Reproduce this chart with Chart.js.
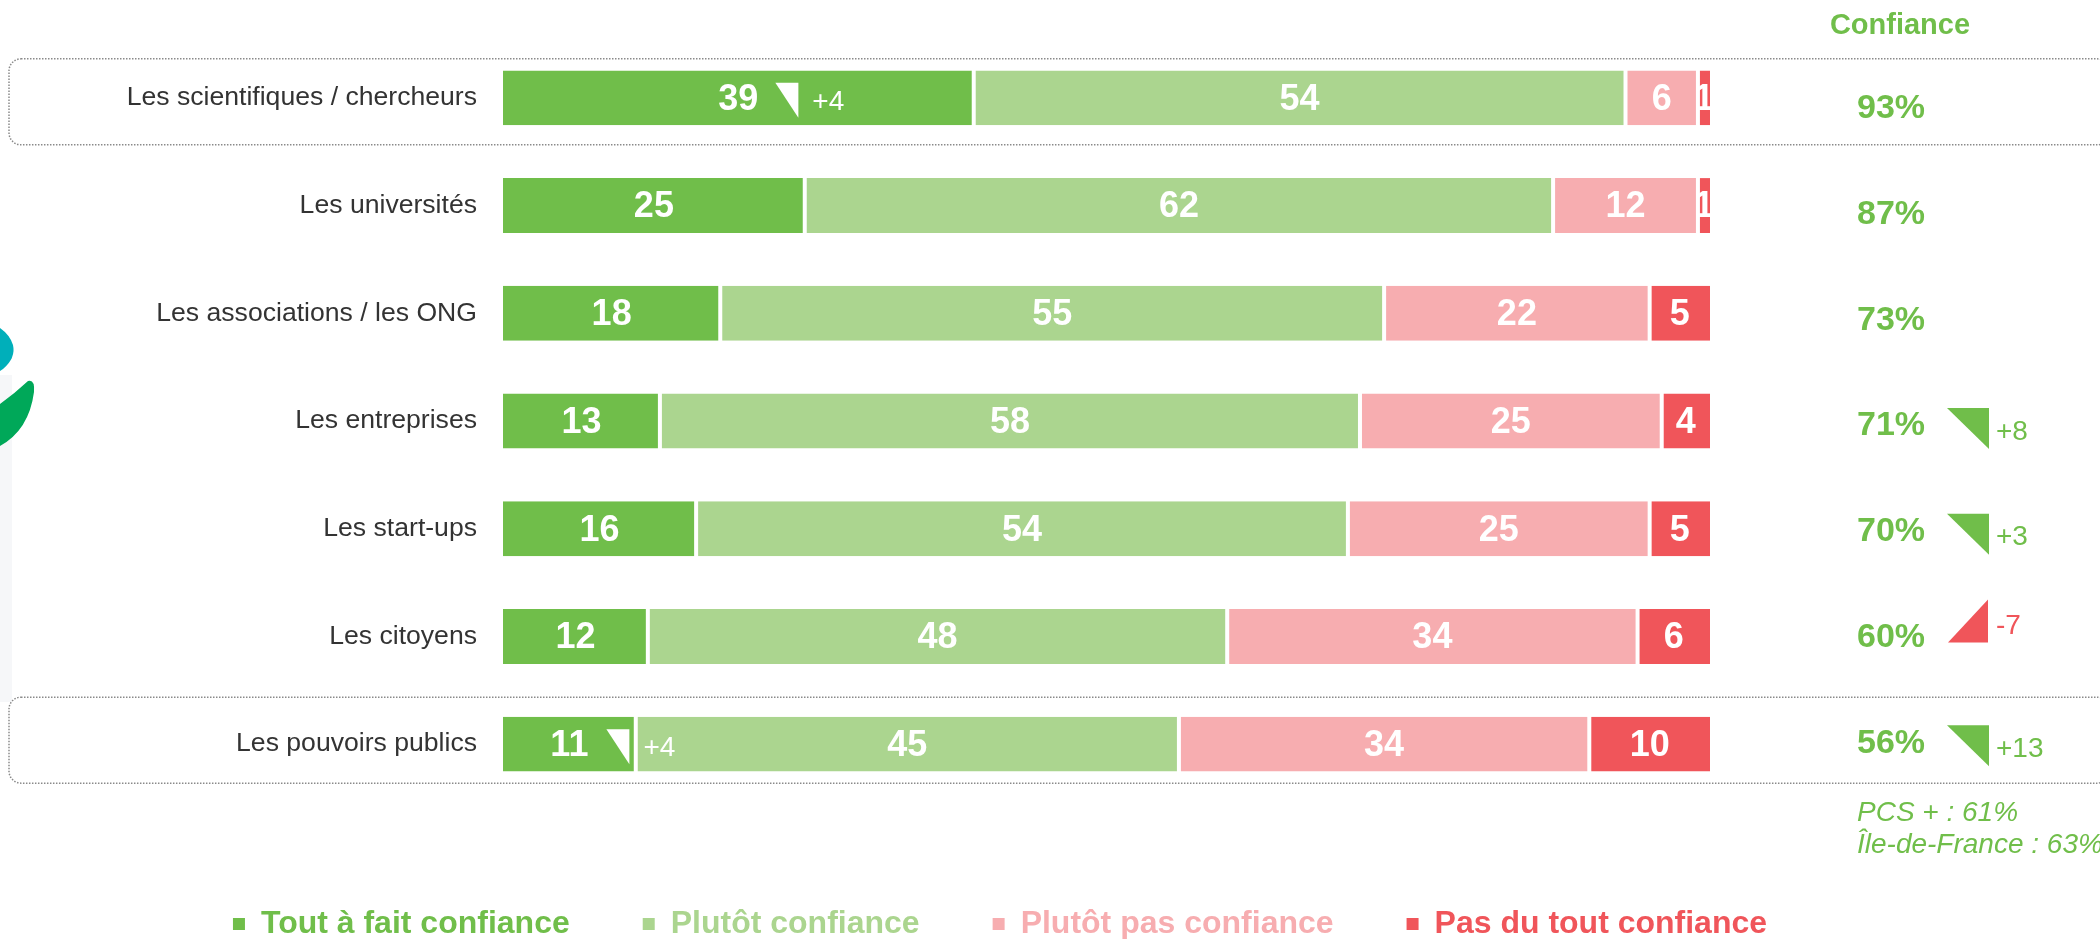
<!DOCTYPE html>
<html>
<head>
<meta charset="utf-8">
<script src="https://cdn.jsdelivr.net/npm/chart.js@4.4.1/dist/chart.umd.min.js"></script>
<style>
  html, body { margin: 0; padding: 0; background: #fff; }
  #wrap { width: 2100px; height: 939px; position: relative; }
</style>
</head>
<body>
<div id="wrap"><canvas id="myChart"></canvas></div>
<script>
// valeurs
const categories = ['Les scientifiques / chercheurs', 'Les universités', 'Les associations / les ONG',
    'Les entreprises', 'Les start-ups', 'Les citoyens', 'Les pouvoirs publics'];
const toutAFait = [39, 25, 18, 13, 16, 12, 11];
const plutot = [54, 62, 55, 58, 54, 48, 45];
const plutotPas = [6, 12, 22, 25, 25, 34, 34];
const pasDuTout = [1, 1, 5, 4, 5, 6, 10];
const confiance = [93, 87, 73, 71, 70, 60, 56];
const evolConfiance = [null, null, null, 8, 3, -7, 13];
const evolToutAFait = [4, null, null, null, null, null, 4];
const highlightRows = [0, 6];
const notes = ['PCS + : 61%', 'Île-de-France : 63%'];

const seriesLabels = ['Tout à fait confiance', 'Plutôt confiance', 'Plutôt pas confiance', 'Pas du tout confiance'];
const seriesColors = ['#70BE4A', '#ABD58F', '#F7ADB0', '#F0555A'];
const seriesData = [toutAFait, plutot, plutotPas, pasDuTout];

const GREEN = '#70BE4A';
const RED = '#F0555A';
const FONT = '"Liberation Sans", Arial, sans-serif';

const rowY = (chart, i) => chart.scales.y.getPixelForValue(i);

// logo, bandeau gris, cadres pointillés
const decor = {
    id: 'decor',
    beforeDraw(chart) {
        const ctx = chart.ctx;
        ctx.save();
        ctx.fillStyle = '#f6f7f9';
        ctx.fillRect(0, 375, 12, 327);
        ctx.fillStyle = '#00AFBA';
        ctx.beginPath();
        ctx.moveTo(0, 328);
        ctx.quadraticCurveTo(10, 335, 13, 345);
        ctx.quadraticCurveTo(16, 358, 3, 369);
        ctx.lineTo(0, 371);
        ctx.closePath();
        ctx.fill();
        ctx.fillStyle = '#00A859';
        ctx.beginPath();
        ctx.moveTo(0, 446);
        ctx.quadraticCurveTo(29, 430, 34, 392);
        ctx.quadraticCurveTo(35, 379, 28, 381);
        ctx.quadraticCurveTo(14, 394, 0, 404);
        ctx.closePath();
        ctx.fill();

        ctx.strokeStyle = '#8a8a8a';
        ctx.lineWidth = 1.5;
        ctx.setLineDash([1.5, 1.5]);
        highlightRows.forEach(i => {
            const c = rowY(chart, i) + 4 - i * 4 / 3;
            ctx.beginPath();
            ctx.roundRect(9, c - 43, 2100, 86, 12);
            ctx.stroke();
        });
        ctx.restore();
    }
};

const labels = {
    id: 'labels',
    afterDatasetsDraw(chart) {
        const ctx = chart.ctx;
        ctx.save();
        ctx.textBaseline = 'middle';
        // valeurs dans les barres
        ctx.fillStyle = '#fff';
        ctx.textAlign = 'center';
        ctx.font = 'bold 36px ' + FONT;
        seriesData.forEach((arr, di) => {
            chart.getDatasetMeta(di).data.forEach((bar, i) => {
                ctx.fillText(arr[i], (bar.x + bar.base) / 2, bar.y + 2);
            });
        });
        // évolutions "tout à fait"
        const meta0 = chart.getDatasetMeta(0);
        evolToutAFait.forEach((v, i) => {
            if (v === null) return;
            const bar = meta0.data[i];
            const cx = (bar.x + bar.base) / 2;
            const y = bar.y;
            ctx.beginPath();
            ctx.moveTo(cx + 37, y - 15);
            ctx.lineTo(cx + 60, y - 15);
            ctx.lineTo(cx + 60, y + 20);
            ctx.closePath();
            ctx.fill();
            ctx.font = '28px ' + FONT;
            ctx.textAlign = 'left';
            ctx.fillText('+' + v, cx + 74, y + 4);
        });
        ctx.restore();
    },
    afterDraw(chart) {
        const ctx = chart.ctx;
        ctx.save();
        ctx.textBaseline = 'middle';
        ctx.fillStyle = GREEN;
        ctx.textAlign = 'center';
        ctx.font = 'bold 29px ' + FONT;
        ctx.fillText('Confiance', 1900, 26);

        confiance.forEach((v, i) => {
            const c = rowY(chart, i) + 8 - 2 * i;
            ctx.fillStyle = GREEN;
            ctx.textAlign = 'left';
            ctx.font = 'bold 34px ' + FONT;
            ctx.fillText(v + '%', 1857, c + 3);
            const e = evolConfiance[i];
            if (e === null) return;
            ctx.beginPath();
            if (e > 0) {
                ctx.fillStyle = GREEN;
                ctx.moveTo(1947, c - 15);
                ctx.lineTo(1989, c - 15);
                ctx.lineTo(1989, c + 26);
            } else {
                ctx.fillStyle = RED;
                ctx.moveTo(1948, c + 8);
                ctx.lineTo(1988, c + 8);
                ctx.lineTo(1988, c - 35);
            }
            ctx.closePath();
            ctx.fill();
            ctx.font = '28px ' + FONT;
            ctx.fillText((e > 0 ? '+' : '') + e, 1996, e > 0 ? c + 9 : c - 8);
        });

        ctx.fillStyle = GREEN;
        ctx.font = 'italic 28px ' + FONT;
        ctx.textAlign = 'left';
        notes.forEach((t, k) => ctx.fillText(t, 1857, 813 + k * 32));
        ctx.restore();
    }
};

const ctx = document.getElementById('myChart');

new Chart(ctx, {
    type: 'bar',
    data: {
        labels: categories,
        datasets: seriesData.map((arr, di) => ({
            label: seriesLabels[di],
            data: arr,
            backgroundColor: seriesColors[di],
            borderColor: '#ffffff',
            borderWidth: {left: di === 0 ? 0 : 2, right: di === 3 ? 0 : 2, top: 0, bottom: 0},
            borderSkipped: false,
            barPercentage: 0.51,
            categoryPercentage: 1
        }))
    },
    options: {
        indexAxis: 'y',
        responsive: true,
        maintainAspectRatio: false,
        animation: false,
        devicePixelRatio: 1,
        events: [],
        layout: {
            padding: {top: 44, left: 0, right: 100, bottom: -11}
        },
        scales: {
            x: {
                stacked: true,
                min: 0,
                max: 100,
                grid: {display: false, drawTicks: false},
                border: {display: false},
                ticks: {display: false},
                afterFit: s => { s.height = 37; }
            },
            y: {
                stacked: true,
                grid: {display: false, drawTicks: false},
                border: {display: false},
                ticks: {
                    color: '#333333',
                    padding: 26,
                    font: {family: FONT, size: 26.6}
                },
                afterFit: s => { s.width = 503; }
            },
            y2: {
                type: 'linear',
                position: 'right',
                grid: {display: false, drawTicks: false},
                border: {display: false},
                ticks: {display: false},
                afterFit: s => { s.width = 290; }
            }
        },
        plugins: {
            tooltip: {enabled: false},
            legend: {
                position: 'bottom',
                labels: {
                    boxWidth: 12,
                    boxHeight: 12,
                    padding: 73,
                    font: {family: FONT, size: 32, weight: 'bold'},
                    generateLabels: () => seriesLabels.map((t, i) => ({
                        text: t,
                        fillStyle: seriesColors[i],
                        strokeStyle: seriesColors[i],
                        lineWidth: 0,
                        fontColor: seriesColors[i],
                        hidden: false,
                        datasetIndex: i
                    }))
                }
            }
        }
    },
    plugins: [decor, labels]
});
</script>
</body>
</html>
